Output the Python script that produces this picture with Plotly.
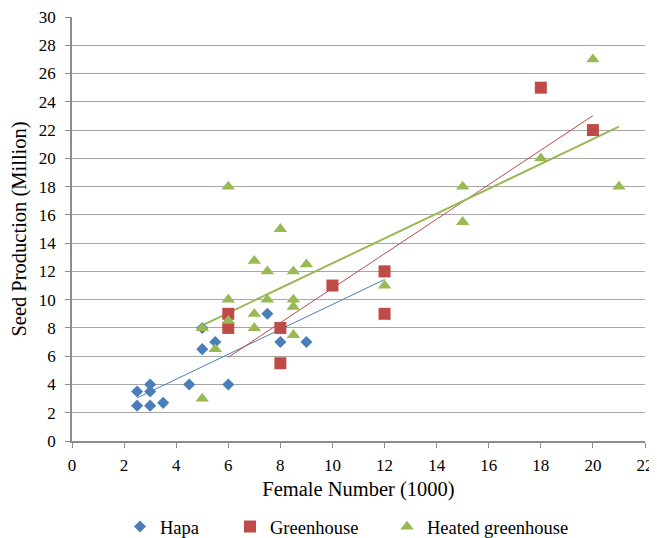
import numpy as np
import plotly.graph_objects as go

# Hapa
hapa_x = [2.5, 2.5, 3, 3, 3, 3.5, 4.5, 5, 5, 5.5, 6, 7.5, 8, 9, 12]
hapa_y = [3.5, 2.5, 4, 3.5, 2.5, 2.7, 4, 8, 6.5, 7, 4, 9, 7, 7, 12]
# Greenhouse
green_x = [6, 6, 8, 8, 10, 12, 12, 18, 20]
green_y = [9, 8, 8, 5.5, 11, 12, 9, 25, 22]
# Heated greenhouse
heat_x = [5, 5, 5.5, 6, 6, 6, 7, 7, 7, 7.5, 7.5, 8, 8.5, 8.5, 8.5, 8.5, 9, 12, 15, 15, 18, 20, 21]
heat_y = [8, 3, 6.5, 18, 10, 8.5, 12.75, 9, 8, 12, 10, 15, 12, 10, 9.5, 7.5, 12.5, 11, 18, 15.5, 20, 27, 18]

x_ticks = list(range(0, 23, 2))
y_ticks = list(range(0, 31, 2))

C_HAPA = "#4A7EBB"
C_GREEN = "#BE4B48"
C_HEAT = "#98B954"

series = [
    ("Hapa", hapa_x, hapa_y, C_HAPA, "diamond", 9.3, 1, "legend"),
    ("Greenhouse", green_x, green_y, C_GREEN, "square", 12, 1, "legend2"),
    ("Heated greenhouse", heat_x, heat_y, C_HEAT, "triangle-up", 11.8, 2, "legend3"),
]

fig = go.Figure()
# trend lines
for name, xs, ys, col, sym, sz, lw, lg in series:
    a, b = np.polyfit(xs, ys, 1)
    xx = [min(xs), max(xs)]
    fig.add_trace(go.Scatter(x=xx, y=[a * v + b for v in xx], mode="lines",
                             line=dict(color=col, width=lw), showlegend=False,
                             hoverinfo="skip"))
for name, xs, ys, col, sym, sz, lw, lg in series:
    fig.add_trace(go.Scatter(x=xs, y=ys, mode="markers", name=name, legend=lg,
                             marker=dict(symbol=sym, size=sz, color=col,
                                         line=dict(width=0))))

font = "Liberation Serif, Times New Roman, serif"
W, H = 657, 530


def leg(xpx):
    return dict(orientation="h", xref="container", yref="container",
                x=xpx / W, xanchor="left", y=11 / H, yanchor="middle",
                font=dict(size=18.5), bgcolor="rgba(0,0,0,0)")


fig.update_layout(
    width=W, height=H,
    margin=dict(l=64, r=20, t=9, b=97),
    paper_bgcolor="white", plot_bgcolor="white",
    font=dict(family=font, size=17, color="black"),
    showlegend=True,
    legend=leg(112), legend2=leg(222), legend3=leg(379),
    xaxis=dict(range=[0, 22], tickvals=x_ticks, showgrid=False, automargin=False,
               showline=True, linecolor="#8c8c8c", linewidth=1.5,
               ticks="outside", ticklen=5, tickcolor="#8c8c8c",
               ticklabelstandoff=3, ticklabeloverflow="allow",
               title=dict(text="Female Number (1000)", font=dict(size=20.5), standoff=7),
               zeroline=False),
    yaxis=dict(range=[0, 30], tickvals=y_ticks, showgrid=True, gridcolor="#a6a6a6",
               gridwidth=1.4, automargin=False,
               showline=True, linecolor="#8c8c8c", linewidth=1.5,
               ticks="outside", ticklen=5, tickcolor="#8c8c8c",
               ticklabelstandoff=6, ticklabeloverflow="allow",
               title=dict(text="Seed Production (Million)", font=dict(size=20.5), standoff=10),
               zeroline=False),
)

fig.write_html("out.html")
